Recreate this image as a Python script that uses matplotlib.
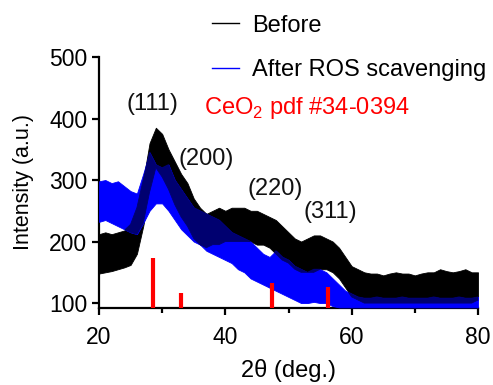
import matplotlib
matplotlib.use("Agg")
import matplotlib.pyplot as plt
import numpy as np
from matplotlib.lines import Line2D

plt.rcParams['font.family'] = ['Liberation Sans', 'DejaVu Sans']
plt.rcParams['mathtext.fontset'] = 'custom'
plt.rcParams['mathtext.rm'] = 'Liberation Sans'

# 2theta grid, 1 deg steps (20..80)
two_theta = list(range(20, 81))

# noise band of the "Before" pattern (lower / upper edge)
before_low = [148, 150, 152, 155, 158, 162, 180, 225, 280, 320,
              305, 285, 260, 240, 225, 205, 195, 190, 195, 195,
              200, 200, 200, 200, 200, 195, 195, 190, 180, 170,
              165, 155, 150, 150, 150, 155, 155, 150, 140, 125,
              110, 105, 100, 100, 100, 100, 100, 100, 100, 100,
              100, 100, 100, 100, 100, 100, 100, 100, 100, 100, 105]
before_high = [212, 215, 212, 215, 218, 228, 255, 300, 360, 385,
               375, 350, 330, 310, 295, 270, 255, 245, 250, 255,
               250, 255, 255, 255, 250, 250, 245, 240, 235, 225,
               215, 205, 200, 205, 210, 210, 205, 200, 190, 175,
               160, 155, 150, 148, 148, 145, 148, 150, 148, 148,
               145, 148, 150, 150, 155, 152, 150, 152, 155, 150, 150]

# noise band of the "After ROS scavenging" pattern
after_low = [232, 235, 230, 225, 220, 215, 212, 230, 250, 262,
             262, 250, 235, 220, 210, 200, 195, 185, 180, 175,
             170, 165, 155, 150, 140, 135, 130, 125, 120, 115,
             110, 105, 100, 100, 102, 100, 100, 95, 93, 93,
             93, 93, 93, 93, 93, 93, 93, 93, 93, 93,
             93, 93, 93, 93, 93, 93, 93, 93, 93, 93, 93]
after_high = [298, 300, 295, 298, 290, 282, 278, 310, 345, 325,
              320, 325, 300, 285, 270, 255, 250, 245, 240, 235,
              225, 215, 210, 205, 200, 190, 180, 175, 185, 175,
              170, 160, 155, 150, 155, 155, 150, 140, 130, 120,
              115, 110, 108, 108, 110, 108, 108, 108, 110, 108,
              108, 108, 108, 110, 108, 108, 108, 110, 108, 108, 110]

# CeO2 reference pattern (pdf #34-0394)
ref_pos = [28.5, 33.05, 47.45, 56.3]
ref_int = [173, 116, 132, 126]

hkl_labels = ['(111)', '(200)', '(220)', '(311)']
hkl_x = [28.4, 36.9, 47.9, 56.6]
hkl_y = [423, 334, 286, 248]

fig = plt.figure(figsize=(4.93, 3.85), dpi=100)
ax = fig.add_axes([0.2008, 0.2, 0.7688, 0.652])

ax.fill_between(two_theta, before_low, before_high, color='black', lw=0.6, zorder=2)
ax.fill_between(two_theta, after_low, after_high, color='blue', lw=0.6, zorder=3)
# where the two noisy traces overlap the pixels mix -> dark navy
ov_low = np.maximum(before_low, after_low)
ov_high = np.minimum(before_high, after_high)
ax.fill_between(two_theta, ov_low, ov_high, where=ov_high > ov_low,
                interpolate=True, color='#000070', lw=0.6, zorder=3.5)

ymin = 92
ax.vlines(ref_pos, ymin, ref_int, colors='red', lw=3, zorder=4)

for lab, x, y in zip(hkl_labels, hkl_x, hkl_y):
    ax.text(x, y, lab, fontsize=17, ha='center', va='center', color='#111111')
ax.text(36.6, 417, 'CeO$_2$ pdf #34-0394', fontsize=17, color='red', ha='left', va='center')

ax.set_xlim(20, 80)
ax.set_ylim(ymin, 500)
ax.set_xticks([20, 40, 60, 80])
ax.set_xticks([30, 50, 70], minor=True)
ax.set_yticks([100, 200, 300, 400, 500])
ax.set_xlabel('2θ (deg.)', fontsize=17, labelpad=7)
ax.set_ylabel('Intensity (a.u.)', fontsize=15.5, labelpad=11)

for s in ['top', 'right']:
    ax.spines[s].set_visible(False)
for s in ['left', 'bottom']:
    ax.spines[s].set_linewidth(1.6)
ax.tick_params(which='major', direction='out', length=5, width=1.6, labelsize=16.5)
ax.tick_params(axis='x', which='major', pad=8)
ax.tick_params(which='minor', direction='out', length=3.5, width=1.6)

handles = [Line2D([], [], color='black', lw=1), Line2D([], [], color='blue', lw=1)]
fig.legend(handles, ['Before', 'After ROS scavenging'], loc='upper left',
           bbox_to_anchor=(0.43, 0.962), frameon=False, fontsize=17,
           handlelength=1.15, handletextpad=0.55, labelspacing=0.95,
           borderpad=0, borderaxespad=0)

fig.savefig('out.png', dpi=100)
